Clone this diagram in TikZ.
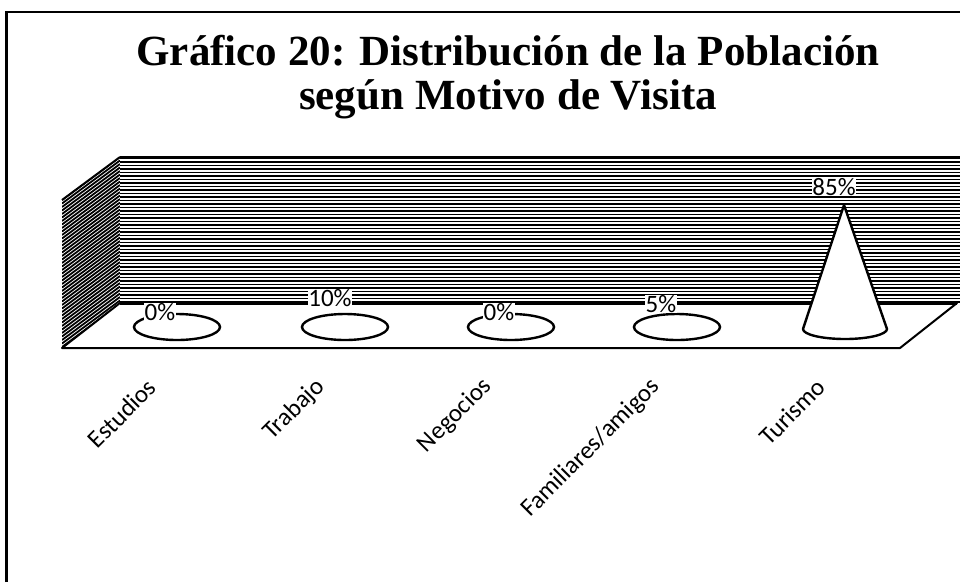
\documentclass[tikz,border=0pt]{standalone}
\usepackage{fontspec}
\setmainfont{Liberation Serif}
\newfontfamily\calib{Carlito}
\tikzset{
  hatchline/.style={line width=1.8pt, draw=black},
  edgeline/.style={line width=2pt, draw=black, line join=round},
  pielabel/.style={font=\calib\fontsize{25}{27}\selectfont, fill=white, inner sep=0.5pt},
  catlabel/.style={font=\calib\fontsize{25}{27}\selectfont, rotate=45, anchor=east, inner sep=0pt},
  titlefont/.style={font=\bfseries\fontsize{43}{46}\selectfont, anchor=base, inner sep=0pt}
}
\begin{document}
\begin{tikzpicture}[x=1pt,y=-1pt]
\useasboundingbox (0,0) rectangle (960,582);
\fill[white] (0,0) rectangle (960,582);
% frame
\draw[line width=3pt] (6,582) -- (6,12);
\draw[line width=2pt] (5,12) -- (960,12);
% title
\node[titlefont] (t1) at (508,65) {Gráfico 20: Distribución de la Población};
\node[titlefont] (t2) at (508,109) {según Motivo de Visita};
% back wall hatching
\begin{scope}
\clip (120,157) rectangle (960,303);
\foreach \yy in {158.5,162,...,303} \draw[hatchline] (120,\yy) -- (960,\yy);
\end{scope}
\draw[edgeline] (120,157) -- (960,157);
% side wall hatching
\begin{scope}
\clip (62,200) -- (120,157) -- (120,303) -- (62,348) -- cycle;
\foreach \yy in {200,203.5,...,352} \draw[hatchline] (62,\yy) -- (120,\yy-43);
\end{scope}
\draw[edgeline] (62,200) -- (120,157);
% floor
\path[edgeline, fill=white] (62,348) -- (900,348) -- (957,303) -- (120,303) -- cycle;
\draw[line width=3pt] (120,303) -- (957,303);
% flat cones
\draw[line width=2.4pt] (177,327) ellipse [x radius=43, y radius=13];
\draw[line width=2.4pt] (345,327) ellipse [x radius=43, y radius=13];
\draw[line width=2.4pt] (511,327) ellipse [x radius=43, y radius=13];
\draw[line width=2.4pt] (677,327) ellipse [x radius=43, y radius=13];
% tall cone
\path[draw=black, fill=white, line width=2.4pt, line join=round] (844,205) -- (803,329) arc[start angle=180, end angle=0, x radius=42, y radius=10] -- cycle;
% value labels
\node[pielabel] (v1) at (160,312) {0\%};
\node[pielabel] (v2) at (330,298) {10\%};
\node[pielabel] (v3) at (499,312) {0\%};
\node[pielabel] (v4) at (661,304) {5\%};
\node[pielabel] (v5) at (834,187) {85\%};
% category labels
\node[catlabel] (c1) at (152,383) {Estudios};
\node[catlabel] (c2) at (321,383) {Trabajo};
\node[catlabel] (c3) at (488,383) {Negocios};
\node[catlabel] (c4) at (656,383) {Familiares/amigos};
\node[catlabel] (c5) at (821,383) {Turismo};
\end{tikzpicture}
\end{document}
